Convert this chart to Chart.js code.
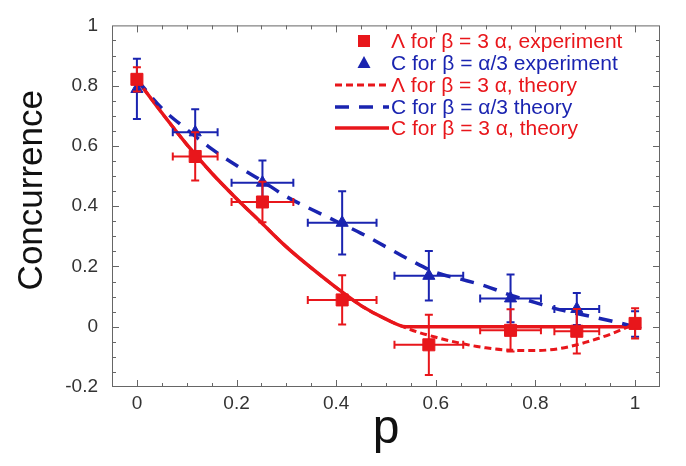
<!DOCTYPE html>
<html><head><meta charset="utf-8">
<script src="https://cdn.jsdelivr.net/npm/chart.js@4/dist/chart.umd.min.js"></script>
<style>html,body{margin:0;padding:0;background:#fff}#wrap{width:686px;height:466px}</style>
</head><body><div id="wrap"><canvas id="c" width="686" height="466"></canvas></div>
<script>
// ---- data ----
const pExp      = [0, 0.117, 0.252, 0.412, 0.586, 0.75, 0.883, 1.0];
const pErr      = [0, 0.045, 0.062, 0.069, 0.069, 0.061, 0.045, 0];
const lambdaExp = [0.821, 0.565, 0.414, 0.089, -0.06, -0.012, -0.015, 0.011];
const lambdaErr = [0.04, 0.08, 0.067, 0.082, 0.10, 0.07, 0.074, 0.05];
const cExp      = [0.789, 0.645, 0.478, 0.345, 0.169, 0.094, 0.059, 0.009];
const cErr      = [0.10, 0.077, 0.074, 0.105, 0.082, 0.079, 0.053, 0.042];

const pTheoryC3   = [0, 0.05, 0.1, 0.15, 0.2, 0.25, 0.3, 0.35, 0.4, 0.45, 0.5, 0.54, 0.7, 0.85, 1.0];
const cTheory3    = [0.82, 0.71, 0.605, 0.51, 0.425, 0.345, 0.265, 0.195, 0.13, 0.07, 0.025, 0, 0, 0, 0];
const pTheoryL    = [0, 0.05, 0.1, 0.15, 0.2, 0.25, 0.3, 0.35, 0.4, 0.45, 0.5, 0.55, 0.6, 0.65, 0.7, 0.75, 0.8, 0.85, 0.9, 0.95, 1.0];
const lambdaTheory= [0.82, 0.71, 0.605, 0.51, 0.425, 0.345, 0.265, 0.195, 0.13, 0.07, 0.025, -0.01, -0.035, -0.055, -0.07, -0.078, -0.079, -0.072, -0.052, -0.025, 0.01];
const pTheoryB    = [0, 0.05, 0.1, 0.15, 0.2, 0.25, 0.3, 0.35, 0.4, 0.45, 0.5, 0.55, 0.6, 0.65, 0.7, 0.75, 0.8, 0.85, 0.9, 0.95, 1.0];
const cTheoryB    = [0.82, 0.725, 0.655, 0.59, 0.535, 0.485, 0.432, 0.39, 0.35, 0.31, 0.265, 0.22, 0.18, 0.158, 0.135, 0.105, 0.08, 0.056, 0.038, 0.02, 0];

const xTickValues = [0, 0.2, 0.4, 0.6, 0.8, 1];
const xTickLabels = ['0', '0.2', '0.4', '0.6', '0.8', '1'];
const yTickValues = [-0.2, 0, 0.2, 0.4, 0.6, 0.8, 1];
const yTickLabels = ['-0.2', '0', '0.2', '0.4', '0.6', '0.8', '1'];
const legendLabels = ['Λ for β = 3 α, experiment', 'C for β = α/3 experiment', 'Λ for β = 3 α, theory', 'C for β = α/3 theory', 'C for β = 3 α, theory'];
const yTitle = 'Concurrence';
const xTitle = 'p';

const RED = '#e8161b', BLUE = '#1a24b0';
const FONT = "'Liberation Sans', Arial, Helvetica, sans-serif";
Chart.defaults.font.family = FONT;

const pts = (xs, ys) => xs.map((x, i) => ({x, y: ys[i]}));

// error bars drawn just before the marker dataset
const errorBars = {
  id: 'errorBars',
  beforeDatasetDraw(chart, args) {
    const ds = chart.data.datasets[args.index];
    if (!ds.errY) return;
    const {ctx, scales: {x, y}} = chart;
    ctx.save();
    ctx.strokeStyle = ds.borderColor; ctx.lineWidth = 2;
    const cap = 4;
    ds.data.forEach((d, i) => {
      const px = x.getPixelForValue(d.x), py = y.getPixelForValue(d.y);
      const ey = ds.errY[i], ex = ds.errX[i];
      ctx.beginPath();
      if (ey > 0) {
        const y1 = y.getPixelForValue(d.y + ey), y2 = y.getPixelForValue(d.y - ey);
        ctx.moveTo(px, y1); ctx.lineTo(px, y2);
        ctx.moveTo(px - cap, y1); ctx.lineTo(px + cap, y1);
        ctx.moveTo(px - cap, y2); ctx.lineTo(px + cap, y2);
      }
      if (ex > 0) {
        const x1 = x.getPixelForValue(d.x - ex), x2 = x.getPixelForValue(d.x + ex);
        ctx.moveTo(x1, py); ctx.lineTo(x2, py);
        ctx.moveTo(x1, py - cap); ctx.lineTo(x1, py + cap);
        ctx.moveTo(x2, py - cap); ctx.lineTo(x2, py + cap);
      }
      ctx.stroke();
    });
    ctx.restore();
  }
};

// frame with inward ticks on all four sides, plus the y-axis title
const frame = {
  id: 'frame',
  beforeDatasetsDraw(chart) {
    const {ctx, chartArea: a, scales: {x, y}} = chart;
    ctx.save();
    ctx.strokeStyle = '#666'; ctx.lineWidth = 1;
    ctx.strokeRect(a.left + 0.5, a.top + 0.5, a.right - a.left - 1, a.bottom - a.top - 1);
    ctx.beginPath();
    for (let k = 0; k <= 20; k++) {
      const v = k * 0.05;
      const major = xTickValues.some(t => Math.abs(t - v) < 1e-6);
      const len = major ? 7 : 4;
      const px = Math.round(x.getPixelForValue(v)) + 0.5;
      ctx.moveTo(px, a.bottom); ctx.lineTo(px, a.bottom - len);
      ctx.moveTo(px, a.top); ctx.lineTo(px, a.top + len);
    }
    for (let k = -3; k <= 19; k++) {
      const v = k * 0.05;
      const major = yTickValues.some(t => Math.abs(t - v) < 1e-6);
      const len = major ? 7 : 4;
      const py = Math.round(y.getPixelForValue(v)) + 0.5;
      ctx.moveTo(a.left, py); ctx.lineTo(a.left + len, py);
      ctx.moveTo(a.right, py); ctx.lineTo(a.right - len, py);
    }
    ctx.stroke();
    // y-axis title (placed slightly above the axis centre, as in the reference)
    ctx.fillStyle = '#111';
    ctx.font = "35px " + FONT;
    ctx.translate(42, (a.top + a.bottom) / 2 - 16);
    ctx.rotate(-Math.PI / 2);
    ctx.textAlign = 'center'; ctx.textBaseline = 'alphabetic';
    ctx.fillText(yTitle, 0, 0);
    ctx.restore();
  }
};

// legend inside the plot, upper right
const insideLegend = {
  id: 'insideLegend',
  afterDatasetsDraw(chart) {
    const {ctx} = chart;
    const rows = [41, 63, 85, 107, 128];
    const colors = [RED, BLUE, RED, BLUE, RED];
    ctx.save();
    ctx.fillStyle = RED;
    ctx.fillRect(364 - 6, rows[0] - 6, 12, 12);
    ctx.fillStyle = BLUE;
    ctx.beginPath();
    ctx.moveTo(364, rows[1] - 7); ctx.lineTo(370.5, rows[1] + 5); ctx.lineTo(357.5, rows[1] + 5); ctx.closePath(); ctx.fill();
    const lineStyles = [[7, 4], [14, 10], []];
    const lineW = [3, 3.5, 3.5];
    for (let i = 0; i < 3; i++) {
      ctx.strokeStyle = colors[i + 2]; ctx.lineWidth = lineW[i];
      ctx.setLineDash(lineStyles[i]);
      ctx.beginPath(); ctx.moveTo(335, rows[i + 2]); ctx.lineTo(389, rows[i + 2]); ctx.stroke();
    }
    ctx.setLineDash([]);
    ctx.font = "21px " + FONT;
    ctx.textBaseline = 'middle'; ctx.textAlign = 'left';
    legendLabels.forEach((t, i) => { ctx.fillStyle = colors[i]; ctx.fillText(t, 391, rows[i] + 1); });
    ctx.restore();
  }
};

new Chart(document.getElementById('c'), {
  type: 'scatter',
  data: {
    datasets: [
      {label: legendLabels[4], data: pts(pTheoryC3, cTheory3), showLine: true, pointRadius: 0,
       borderColor: RED, borderWidth: 3.5, cubicInterpolationMode: 'monotone', order: 5},
      {label: legendLabels[3], data: pts(pTheoryB, cTheoryB), showLine: true, pointRadius: 0,
       borderColor: BLUE, borderWidth: 3.5, borderDash: [14, 10], cubicInterpolationMode: 'monotone', order: 4},
      {label: legendLabels[2], data: pts(pTheoryL, lambdaTheory), showLine: true, pointRadius: 0,
       borderColor: RED, borderWidth: 3, borderDash: [7, 4], cubicInterpolationMode: 'monotone', order: 3},
      {label: legendLabels[1], data: pts(pExp, cExp), errY: cErr, errX: pErr, pointStyle: 'triangle', pointRadius: 7,
       backgroundColor: BLUE, borderColor: BLUE, borderWidth: 1, order: 2},
      {label: legendLabels[0], data: pts(pExp, lambdaExp), errY: lambdaErr, errX: pErr, pointStyle: 'rect', pointRadius: 8.5,
       backgroundColor: RED, borderColor: RED, borderWidth: 1, order: 1}
    ]
  },
  options: {
    responsive: false, animation: false,
    layout: {padding: {top: 12, right: 26, left: 0, bottom: 0}},
    plugins: {legend: {display: false}, tooltip: {enabled: false}},
    scales: {
      x: {
        type: 'linear', min: -0.05, max: 1.05,
        afterBuildTicks: s => { s.ticks = xTickValues.map(v => ({value: v})); },
        afterFit: s => { s.height = 79; },
        grid: {display: false, drawTicks: false}, border: {display: false},
        ticks: {padding: 5, color: '#333', font: {size: 19},
                callback: (v) => xTickLabels[xTickValues.findIndex(t => Math.abs(t - v) < 1e-6)]},
        title: {display: true, text: xTitle, color: '#111', font: {size: 48}, padding: {top: 0, bottom: 7}}
      },
      y: {
        type: 'linear', min: -0.2, max: 1,
        afterBuildTicks: s => { s.ticks = yTickValues.map(v => ({value: v})); },
        afterFit: s => { s.width = 112; },
        grid: {display: false, drawTicks: false}, border: {display: false},
        ticks: {padding: 14, color: '#333', font: {size: 19},
                callback: (v) => yTickLabels[yTickValues.findIndex(t => Math.abs(t - v) < 1e-6)]},
        title: {display: false}
      }
    }
  },
  plugins: [frame, errorBars, insideLegend]
});
</script>
</body></html>
